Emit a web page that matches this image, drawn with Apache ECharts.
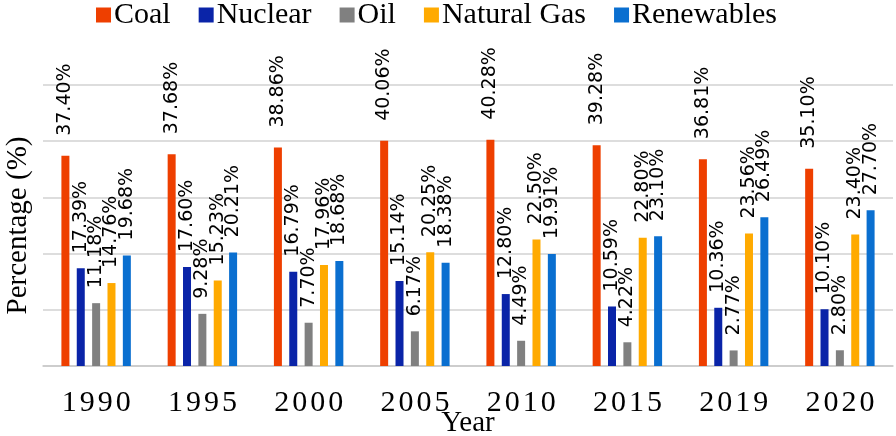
<!DOCTYPE html>
<html>
<head>
<meta charset="utf-8">
<script src="https://cdn.jsdelivr.net/npm/echarts@6/dist/echarts.min.js"></script>
<style>
  html, body { margin: 0; padding: 0; background: #fff; }
  #chart { width: 896px; height: 436px; }
</style>
</head>
<body>
<div id="chart"></div>
<script>
const years = ['1990', '1995', '2000', '2005', '2010', '2015', '2019', '2020'];
const coal = [37.40, 37.68, 38.86, 40.06, 40.28, 39.28, 36.81, 35.10];
const nuclear = [17.39, 17.60, 16.79, 15.14, 12.80, 10.59, 10.36, 10.10];
const oil = [11.18, 9.28, 7.70, 6.17, 4.49, 4.22, 2.77, 2.80];
const naturalGas = [14.76, 15.23, 17.96, 20.25, 22.50, 22.80, 23.56, 23.40];
const renewables = [19.68, 20.21, 18.68, 18.38, 19.91, 23.10, 26.49, 27.70];

const serif = '"Liberation Serif", "Times New Roman", serif';

function barSeries(name, data, color, dist) {
  return {
    name: name,
    type: 'bar',
    data: data,
    barWidth: 8,
    barGap: '92%',
    itemStyle: { color: color },
    label: {
      show: true,
      position: 'top',
      rotate: 90,
      align: 'left',
      verticalAlign: 'middle',
      distance: dist,
      fontFamily: '"DejaVu Sans", sans-serif',
      fontSize: 19,
      color: '#000',
      formatter: p => p.value.toFixed(2) + '%'
    }
  };
}

const chart = echarts.init(document.getElementById('chart'));
chart.setOption({
  animation: false,
  legend: {
    top: 0,
    left: 96,
    padding: 0,
    icon: 'rect',
    itemWidth: 15,
    itemHeight: 15,
    itemGap: 28,
    textStyle: { fontFamily: serif, fontSize: 30, color: '#000', padding: [0, 0, 0, -2] }
  },
  grid: { left: 43, right: 3, top: 85, bottom: 70, outerBoundsMode: 'none' },
  xAxis: {
    type: 'category',
    data: years,
    name: 'Year',
    nameLocation: 'middle',
    nameGap: 43,
    nameMoveOverlap: false,
    nameTextStyle: { fontFamily: serif, fontSize: 29, color: '#000' },
    axisLine: { lineStyle: { color: '#c8c8c8', width: 1.5 } },
    axisTick: { show: false },
    axisLabel: {
      interval: 0,
      hideOverlap: false,
      margin: 22,
      formatter: v => v.split('').map(c => '{d|' + c + '}').join(''),
      rich: { d: { fontFamily: serif, fontSize: 30, color: '#000', padding: [0, 1.5] } }
    }
  },
  yAxis: {
    type: 'value',
    min: 0,
    max: 50,
    interval: 10,
    name: 'Percentage (%)',
    nameLocation: 'middle',
    nameGap: 10,
    nameMoveOverlap: false,
    nameTextStyle: { fontFamily: serif, fontSize: 29, color: '#000' },
    axisLabel: { show: false },
    axisLine: { show: false },
    axisTick: { show: false },
    splitLine: { lineStyle: { color: '#d2d2d2', width: 1.5 } }
  },
  series: [
    barSeries('Coal', coal, '#ee3f00', 20),
    barSeries('Nuclear', nuclear, '#0a24a8', 15),
    barSeries('Oil', oil, '#808080', 15),
    barSeries('Natural Gas', naturalGas, '#ffaa00', 15),
    barSeries('Renewables', renewables, '#0a6fd0', 15)
  ]
});
</script>
</body>
</html>
